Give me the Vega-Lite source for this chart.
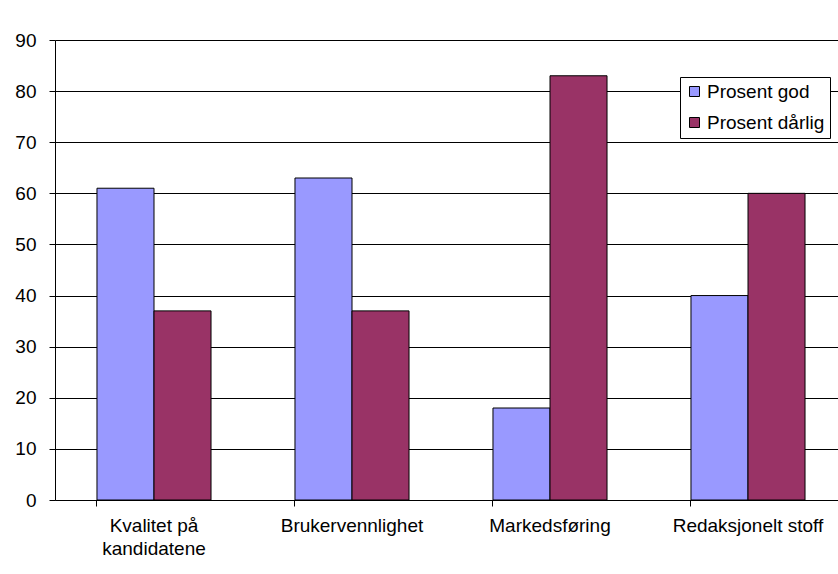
{
  "$schema": "https://vega.github.io/schema/vega-lite/v6.json",
  "autosize": "none",
  "width": 792,
  "height": 460,
  "padding": {"left": 55, "top": 40, "right": 0, "bottom": 74},
  "background": "white",
  "data": {"values": [
    {"kategori": "Kvalitet på kandidatene", "serie": "Prosent god", "verdi": 61},
    {"kategori": "Kvalitet på kandidatene", "serie": "Prosent dårlig", "verdi": 37},
    {"kategori": "Brukervennlighet", "serie": "Prosent god", "verdi": 63},
    {"kategori": "Brukervennlighet", "serie": "Prosent dårlig", "verdi": 37},
    {"kategori": "Markedsføring", "serie": "Prosent god", "verdi": 18},
    {"kategori": "Markedsføring", "serie": "Prosent dårlig", "verdi": 83},
    {"kategori": "Redaksjonelt stoff", "serie": "Prosent god", "verdi": 40},
    {"kategori": "Redaksjonelt stoff", "serie": "Prosent dårlig", "verdi": 60}
  ]},
  "config": {
    "view": {"stroke": null},
    "font": "Liberation Sans",
    "axis": {"labelFont": "Liberation Sans", "labelFontSize": 19, "labelColor": "#000"},
    "legend": {"labelFont": "Liberation Sans", "labelFontSize": 19, "labelColor": "#000"}
  },
  "mark": {"type": "bar", "stroke": "#000", "strokeWidth": 1},
  "encoding": {
    "x": {
      "field": "kategori", "type": "nominal", "sort": null,
      "scale": {"paddingInner": 0.424, "paddingOuter": 0.212},
      "axis": {
        "title": null, "labelAngle": 0, "domainColor": "#000", "tickColor": "#000",
        "tickSize": 6, "bandPosition": 0, "labelPadding": 10, "labelLineHeight": 23,
        "labelExpr": "datum.label == 'Kvalitet på kandidatene' ? ['Kvalitet på', 'kandidatene'] : datum.label"
      }
    },
    "xOffset": {"field": "serie", "type": "nominal", "sort": ["Prosent god", "Prosent dårlig"], "scale": {"paddingInner": 0, "paddingOuter": 0}},
    "y": {
      "field": "verdi", "type": "quantitative",
      "scale": {"domain": [0, 90], "nice": false},
      "axis": {
        "title": null, "values": [0, 10, 20, 30, 40, 50, 60, 70, 80, 90],
        "grid": true, "gridColor": "#000", "gridOpacity": 1, "gridWidth": 1,
        "domainColor": "#000", "tickColor": "#000", "tickSize": 6, "labelPadding": 13
      }
    },
    "color": {
      "field": "serie", "type": "nominal",
      "scale": {"domain": ["Prosent god", "Prosent dårlig"], "range": ["#9999FF", "#993366"]},
      "legend": {
        "title": null, "orient": "none", "legendX": 625, "legendY": 37,
        "symbolType": "square", "symbolSize": 100, "symbolStrokeColor": "#000", "symbolStrokeWidth": 1,
        "fillColor": "white", "strokeColor": "#000", "padding": 5, "rowPadding": 11, "labelOffset": 3
      }
    }
  }
}
